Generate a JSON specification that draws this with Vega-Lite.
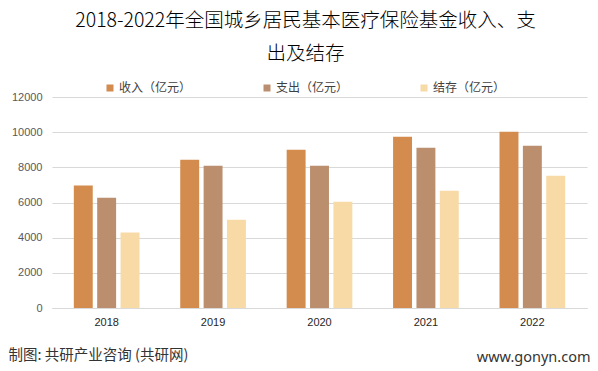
{
  "$schema": "https://vega.github.io/schema/vega-lite/v6.json",
  "width": 535,
  "height": 211,
  "autosize": {"type": "none"},
  "padding": {"left": 52, "top": 97, "right": 11, "bottom": 63},
  "background": "white",
  "config": {"view": {"stroke": null}},
  "title": {
    "text": ["2018-2022年全国城乡居民基本医疗保险基金收入、支", "出及结存"],
    "font": "Noto Sans CJK SC",
    "fontSize": 19.5,
    "fontWeight": 300,
    "color": "#000000",
    "anchor": "middle",
    "lineHeight": 33,
    "dx": -14,
    "dy": -14
  },
  "data": {
    "values": [
      {"year": "2018", "type": "收入（亿元）", "value": 6960},
      {"year": "2018", "type": "支出（亿元）", "value": 6275},
      {"year": "2018", "type": "结存（亿元）", "value": 4290},
      {"year": "2019", "type": "收入（亿元）", "value": 8434},
      {"year": "2019", "type": "支出（亿元）", "value": 8093},
      {"year": "2019", "type": "结存（亿元）", "value": 5022},
      {"year": "2020", "type": "收入（亿元）", "value": 9003},
      {"year": "2020", "type": "支出（亿元）", "value": 8093},
      {"year": "2020", "type": "结存（亿元）", "value": 6045},
      {"year": "2021", "type": "收入（亿元）", "value": 9742},
      {"year": "2021", "type": "支出（亿元）", "value": 9117},
      {"year": "2021", "type": "结存（亿元）", "value": 6671},
      {"year": "2022", "type": "收入（亿元）", "value": 10027},
      {"year": "2022", "type": "支出（亿元）", "value": 9230},
      {"year": "2022", "type": "结存（亿元）", "value": 7524}
    ]
  },
  "mark": {"type": "bar"},
  "encoding": {
    "x": {
      "field": "year",
      "type": "nominal",
      "scale": {"paddingInner": 0.383, "paddingOuter": 0.205},
      "axis": {
        "labelAngle": 0,
        "labelFont": "Liberation Sans",
        "labelFontSize": 11,
        "labelColor": "#262626",
        "labelPadding": 8,
        "ticks": false,
        "domainColor": "#d9d9d9",
        "domainWidth": 1,
        "title": "制图: 共研产业咨询 (共研网)",
        "titleFont": "Noto Sans CJK SC",
        "titleFontSize": 14.5,
        "titleFontWeight": "normal",
        "titleColor": "#333333",
        "titleAlign": "left",
        "titleAnchor": "start",
        "titleBaseline": "middle",
        "titleX": -44,
        "titleY": 47
      }
    },
    "xOffset": {
      "field": "type",
      "type": "nominal",
      "sort": ["收入（亿元）", "支出（亿元）", "结存（亿元）"],
      "scale": {"paddingInner": 0.19, "paddingOuter": 0}
    },
    "y": {
      "field": "value",
      "type": "quantitative",
      "scale": {"domain": [0, 12000], "nice": false},
      "axis": {
        "values": [0, 2000, 4000, 6000, 8000, 10000, 12000],
        "format": "d",
        "labelFont": "Liberation Sans",
        "labelFontSize": 11,
        "labelColor": "#595959",
        "labelPadding": 10,
        "ticks": false,
        "domain": false,
        "gridColor": "#d9d9d9",
        "gridWidth": 1,
        "title": "www.gonyn.com",
        "titleFont": "Noto Sans",
        "titleFontSize": 14.5,
        "titleFontWeight": "normal",
        "titleColor": "#333333",
        "titleAngle": 0,
        "titleAlign": "right",
        "titleBaseline": "middle",
        "titleX": 538,
        "titleY": 260
      }
    },
    "color": {
      "field": "type",
      "type": "nominal",
      "sort": ["收入（亿元）", "支出（亿元）", "结存（亿元）"],
      "scale": {
        "domain": ["收入（亿元）", "支出（亿元）", "结存（亿元）"],
        "range": ["#D38B4E", "#BB8E6E", "#F7DAA6"]
      },
      "legend": {
        "title": null,
        "orient": "none",
        "direction": "horizontal",
        "legendX": 52,
        "legendY": -15,
        "padding": 0,
        "symbolType": "square",
        "symbolSize": 49,
        "symbolStrokeWidth": 0,
        "labelFont": "Noto Sans CJK SC",
        "labelFontSize": 12,
        "labelColor": "#404040",
        "labelOffset": 3,
        "columnPadding": 69
      }
    }
  }
}
